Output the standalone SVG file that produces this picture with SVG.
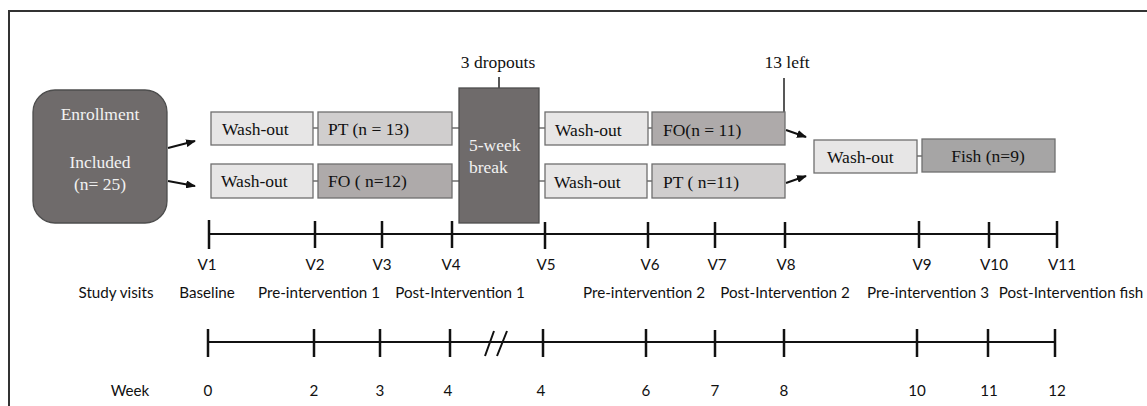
<svg xmlns="http://www.w3.org/2000/svg" width="1147" height="406" viewBox="0 0 1147 406">
<style>
.frame{fill:#fff;stroke:#333;stroke-width:2}
.box{stroke:#6f6f6f;stroke-width:1.3}
.wash{fill:#e7e6e6}
.pt{fill:#d0cece}
.fo{fill:#aeaaaa}
.fish{fill:#a6a5a5}
.dark{fill:#6f6b6b;stroke:#4d4d4d;stroke-width:1.3}
.t{font-family:"Liberation Serif","Times New Roman",serif;font-size:17.5px;fill:#111}
.tw{font-family:"Liberation Serif","Times New Roman",serif;font-size:17.5px;fill:#f2f2f2}
.s{font-family:Lato,"Liberation Sans",sans-serif;font-size:15.2px;fill:#111;text-anchor:middle}
.c{stroke:#6f6f6f;stroke-width:1.3;fill:none}
.ln{stroke:#222;stroke-width:1.5;fill:none}
.arr{stroke:#111;stroke-width:2;fill:none;marker-end:url(#ah)}
.axis{stroke:#111;stroke-width:2;fill:none}
.tick{stroke:#111;stroke-width:2.5;fill:none}
</style>
<defs>
<marker id="ah" viewBox="0 0 10 8" refX="9" refY="4" markerWidth="10" markerHeight="8" markerUnits="userSpaceOnUse" orient="auto">
<path d="M0,0 L10,4 L0,8 z" fill="#111"/>
</marker>
</defs>
<rect class="frame" x="9" y="11" width="1200" height="500"/>

<g id="connectors">
<path class="arr" d="M168,148 L195,141"/>
<path class="arr" d="M168,181 L195,186"/>
<path class="c" d="M313,128 H318 M452,128 H459 M313,181 H318 M452,181 H459 M539,128 H545 M539,181 H545 M648,128 H652 M647,181 H652 M917,156 H922"/>
<path class="ln" d="M499,77 V88 M784,78 V112"/>
<path class="arr" d="M786,130 L806,137"/>
<path class="arr" d="M786,183 L806,176"/>
</g>

<g id="enrollment">
<rect class="dark" x="33" y="90" width="134" height="133" rx="22"/>
<text class="tw" x="100" y="120" text-anchor="middle">Enrollment</text>
<text class="tw" x="100" y="168" text-anchor="middle">Included</text>
<text class="tw" x="100" y="190" text-anchor="middle">(n= 25)</text>
</g>

<g id="washout1a"><rect class="box wash" x="211" y="112" width="102" height="33"/><text class="t" x="222" y="135">Wash-out</text></g>
<g id="pt13"><rect class="box pt" x="318" y="112" width="134" height="33"/><text class="t" x="328" y="135">PT (n = 13)</text></g>
<g id="washout1b"><rect class="box wash" x="211" y="164" width="102" height="34"/><text class="t" x="221" y="187">Wash-out</text></g>
<g id="fo12"><rect class="box fo" x="318" y="164" width="134" height="34"/><text class="t" x="328" y="187">FO ( n=12)</text></g>

<g id="break">
<rect class="dark" x="459" y="88" width="80" height="135"/>
<text class="tw" x="469" y="151">5-week</text>
<text class="tw" x="469" y="173">break</text>
</g>
<g id="dropouts"><text class="t" x="498" y="68" text-anchor="middle">3 dropouts</text></g>

<g id="washout2a"><rect class="box wash" x="545" y="112" width="103" height="33"/><text class="t" x="555" y="136">Wash-out</text></g>
<g id="fo11"><rect class="box fo" x="652" y="112" width="133" height="33"/><text class="t" x="663" y="136">FO(n = 11)</text></g>
<g id="washout2b"><rect class="box wash" x="545" y="164" width="102" height="34"/><text class="t" x="554" y="188">Wash-out</text></g>
<g id="pt11"><rect class="box pt" x="652" y="164" width="133" height="34"/><text class="t" x="663" y="188">PT ( n=11)</text></g>
<g id="left13"><text class="t" x="787" y="68" text-anchor="middle">13 left</text></g>

<g id="washout3"><rect class="box wash" x="814" y="140" width="103" height="33"/><text class="t" x="827" y="163">Wash-out</text></g>
<g id="fish"><rect class="box fish" x="922" y="139" width="133" height="33"/><text class="t" x="988" y="162" text-anchor="middle">Fish (n=9)</text></g>

<g id="visits-axis">
<path class="axis" d="M209,234 H1057"/>
<path class="tick" d="M209,220 V249 M315,221 V248 M382,221 V248 M452,221 V248 M545,222 V249 M648,222 V248 M715,222 V248 M785,222 V248 M919,221 V248 M989,222 V248 M1057,221 V248"/>
<g class="s">
<text x="207" y="270">V1</text>
<text x="315" y="270">V2</text>
<text x="382" y="270">V3</text>
<text x="451" y="270">V4</text>
<text x="546" y="270">V5</text>
<text x="650" y="270">V6</text>
<text x="717" y="270">V7</text>
<text x="786" y="270">V8</text>
<text x="922" y="270">V9</text>
<text x="994" y="270">V10</text>
<text x="1062" y="270">V11</text>
<text x="116" y="298">Study visits</text>
<text x="207" y="298">Baseline</text>
<text x="319" y="298">Pre-intervention 1</text>
<text x="460" y="298">Post-Intervention 1</text>
<text x="644" y="298">Pre-intervention 2</text>
<text x="785" y="298">Post-Intervention 2</text>
<text x="928" y="298">Pre-intervention 3</text>
<text x="1071" y="298">Post-Intervention fish</text>
</g>
</g>

<g id="week-axis">
<path class="axis" d="M208,342 H1055"/>
<path class="tick" d="M208,329 V357 M314,329 V357 M380,329 V357 M450,329 V357 M543,329 V357 M646,329 V357 M715,330 V357 M784,329 V357 M917,329 V357 M988,329 V357 M1055,329 V357"/>
<path class="axis" d="M485,356 L494,331 M497,356 L507,331"/>
<g class="s">
<text x="130" y="396">Week</text>
<text x="208" y="396">0</text>
<text x="314" y="396">2</text>
<text x="380" y="396">3</text>
<text x="448" y="396">4</text>
<text x="541" y="396">4</text>
<text x="646" y="396">6</text>
<text x="715" y="396">7</text>
<text x="784" y="396">8</text>
<text x="917" y="396">10</text>
<text x="989" y="396">11</text>
<text x="1057" y="396">12</text>
</g>
</g>
</svg>
